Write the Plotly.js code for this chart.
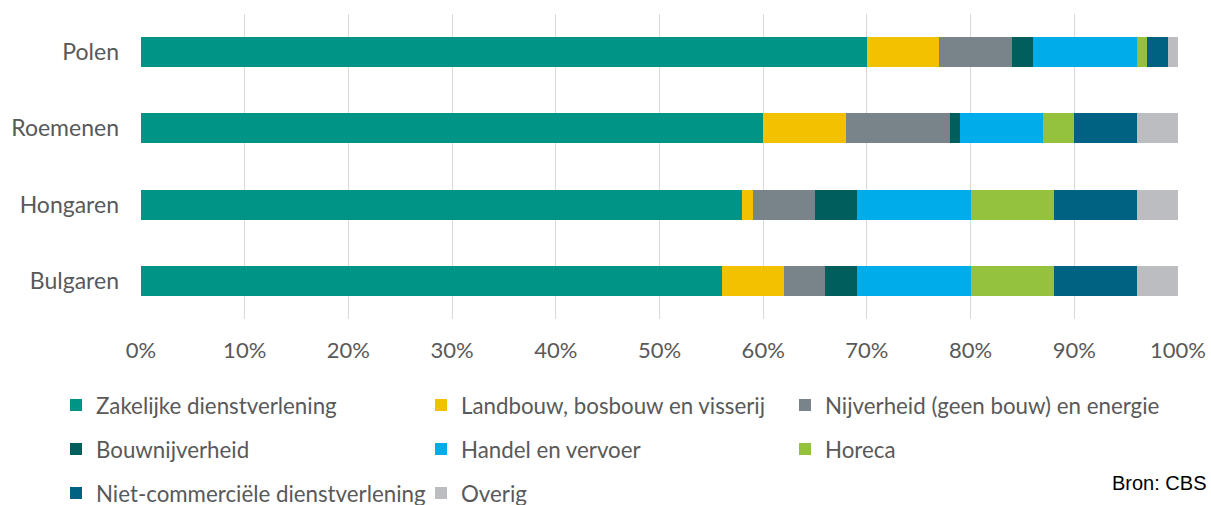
<!DOCTYPE html>
<html>
<head>
<meta charset="utf-8">
<script src="https://cdn.plot.ly/plotly-3.0.1.min.js"></script>
<style>html,body{margin:0;padding:0;background:#fff;}#chart{width:1211px;height:505px;}</style>
</head>
<body>
<div id="chart"></div>
<script>
const categories = ['Polen', 'Roemenen', 'Hongaren', 'Bulgaren'];
const seriesNames = [
  'Zakelijke dienstverlening',
  'Landbouw, bosbouw en visserij',
  'Nijverheid (geen bouw) en energie',
  'Bouwnijverheid',
  'Handel en vervoer',
  'Horeca',
  'Niet-commerciële dienstverlening',
  'Overig'
];
// values per series, in category order (Polen, Roemenen, Hongaren, Bulgaren), fractions
const zakelijke   = [0.70, 0.60, 0.58, 0.56];
const landbouw    = [0.07, 0.08, 0.01, 0.06];
const nijverheid  = [0.07, 0.10, 0.06, 0.04];
const bouw        = [0.02, 0.01, 0.04, 0.03];
const handel      = [0.10, 0.08, 0.11, 0.11];
const horeca      = [0.01, 0.03, 0.08, 0.08];
const nietcomm    = [0.02, 0.06, 0.08, 0.08];
const overig      = [0.01, 0.04, 0.04, 0.04];
const xTicks      = [0, 0.1, 0.2, 0.3, 0.4, 0.5, 0.6, 0.7, 0.8, 0.9, 1.0];
const xTickLabels = ['0%', '10%', '20%', '30%', '40%', '50%', '60%', '70%', '80%', '90%', '100%'];

const seriesValues = [zakelijke, landbouw, nijverheid, bouw, handel, horeca, nietcomm, overig];
const colors = ['#009486', '#F2C100', '#79838A', '#005F5C', '#00ACE9', '#95C23D', '#006282', '#BBBDC0'];
// legend column for each series (three columns, filled row by row)
const legendIds = ['legend', 'legend2', 'legend3', 'legend', 'legend2', 'legend3', 'legend', 'legend2'];

const traces = seriesNames.map((name, i) => ({
  type: 'bar',
  orientation: 'h',
  name: name,
  y: categories,
  x: seriesValues[i],
  marker: { color: colors[i], line: { width: 0 } },
  legend: legendIds[i],
  legendgroup: 'g' + i,
  hoverinfo: 'name+x'
}));

const W = 1211, H = 505;
const PL = 141, PR = 1178, PT = 14, PB = 319;
const px2x = px => (px - PL) / (PR - PL);
const py2y = py => (PB - py) / (PB - PT);
const legendFont = { family: 'Lato, Carlito, Calibri, sans-serif', size: 22.3, color: '#595959' };
function legendAt(px, py) {
  return {
    xref: 'paper', yref: 'paper',
    x: px2x(px), y: py2y(py),
    xanchor: 'left', yanchor: 'top',
    orientation: 'v',
    font: legendFont,
    bgcolor: 'rgba(0,0,0,0)',
    borderwidth: 0,
    tracegroupgap: 12,
    itemclick: false, itemdoubleclick: false
  };
}

const layout = {
  width: W, height: H,
  margin: { l: PL, r: W - PR, t: PT, b: H - PB, pad: 0, autoexpand: false },
  paper_bgcolor: '#ffffff',
  plot_bgcolor: '#ffffff',
  barmode: 'stack',
  bargap: 0.607,
  showlegend: true,
  font: { family: 'Lato, Carlito, Calibri, sans-serif', color: '#595959', size: 22 },
  xaxis: {
    range: [0, 1],
    tickvals: xTicks,
    ticktext: xTickLabels,
    showgrid: true,
    gridcolor: '#D9D9D9',
    gridwidth: 1.3,
    zeroline: false,
    showline: false,
    ticks: '',
    ticklabelstandoff: 16,
    tickfont: { size: 22, color: '#595959' },
    fixedrange: true
  },
  yaxis: {
    autorange: 'reversed',
    showgrid: false,
    zeroline: false,
    showline: false,
    ticks: '',
    ticklabelstandoff: 21,
    tickfont: { size: 23, color: '#595959' },
    fixedrange: true
  },
  legend: legendAt(56, 384),
  legend2: legendAt(421, 384),
  legend3: legendAt(785, 384),
  annotations: [{
    xref: 'paper', yref: 'paper',
    x: px2x(1208), y: py2y(483),
    xanchor: 'right', yanchor: 'middle',
    text: 'Bron: CBS',
    showarrow: false,
    font: { family: 'Liberation Sans, Arial, sans-serif', size: 20, color: '#000000' }
  }]
};

Plotly.newPlot('chart', traces, layout, { displayModeBar: false });
</script>
</body>
</html>
